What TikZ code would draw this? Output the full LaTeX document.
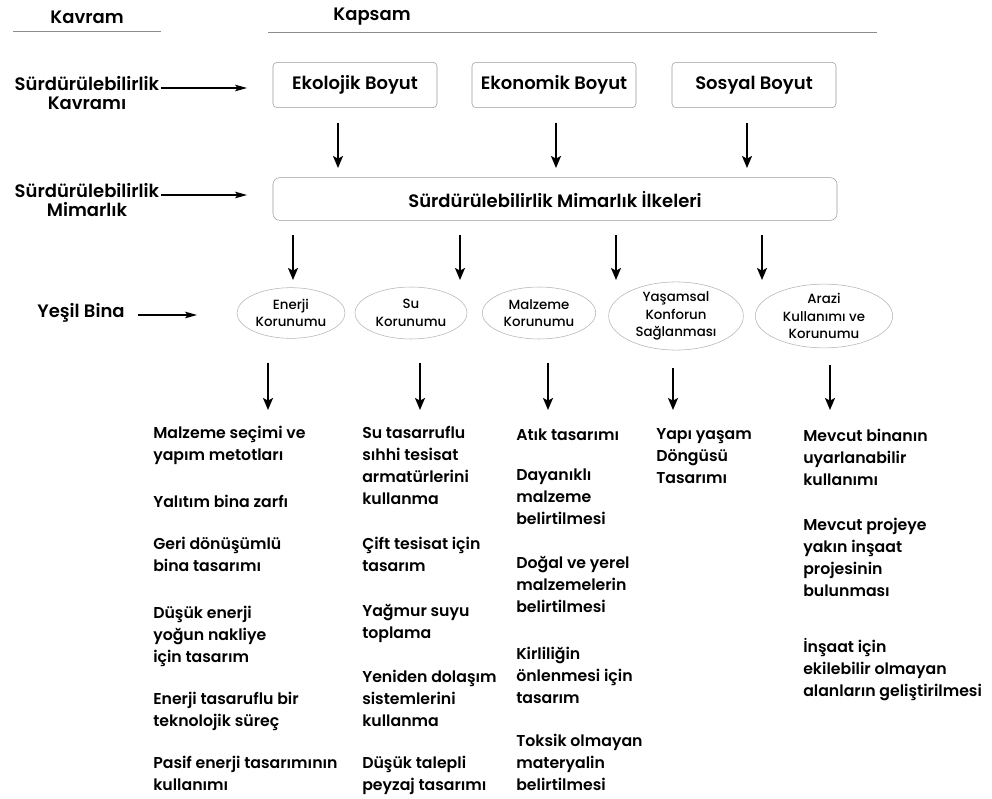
\documentclass[tikz,border=0pt]{standalone}
\usepackage{fontspec}
\setmainfont{Poppins}
\newfontfamily\medium{Poppins Medium}
\newfontfamily\semi{Poppins SemiBold}
\usetikzlibrary{shapes.geometric,arrows.meta}

\begin{document}
\begin{tikzpicture}%
	[	x=0.75pt,
	y=-0.75pt,
	rule/.style={draw=black!45, line width=0.6pt},
	head/.style={font=\semi\fontsize{13.5}{16}\selectfont},
	label/.style={align=center, inner sep=1pt, font=\semi\fontsize{13.5}{14.5}\selectfont},
	dimbox/.style={draw=black!40, rounded corners=3pt, minimum width=123pt, minimum height=34pt, font=\semi\fontsize{13.5}{16}\selectfont},
	principle/.style={draw=black!40, rounded corners=5pt, minimum width=423pt, minimum height=32pt, font=\semi\fontsize{13.5}{16}\selectfont},
	topic/.style={ellipse, draw=black!30, align=center, inner sep=0pt, font=\medium\fontsize{10}{13}\selectfont},
	item/.style={anchor=north west, yshift=8.6pt, align=left, inner sep=0pt, execute at begin node=\strut, font=\semi\fontsize{11.8}{16.5}\selectfont},
	flow/.style={-{Stealth[length=9pt,width=7.5pt,inset=2pt]}, line width=1.3pt},
	pointer/.style={-{Stealth[length=9pt,width=5pt,inset=2pt]}, line width=1pt}]

\useasboundingbox (0,0) rectangle (992,799);

\node[head] (kavram) at (87,17) {Kavram};
\node[head] (kapsam) at (372,17) {Kapsam};
\draw[rule] (13,31) -- (161,31);
\draw[rule] (268,32) -- (877,32);

\node[label] (kavrami) at (87,93) {Sürdürülebilirlik\\Kavramı};
\node[label] (mimarlik) at (87,200) {Sürdürülebilirlik\\Mimarlık};
\node[label] (yesil) at (81,313) {Yeşil Bina};

\node[dimbox] (ekolojik) at (355,85) {Ekolojik Boyut};
\node[dimbox] (ekonomik) at (554,85) {Ekonomik Boyut};
\node[dimbox] (sosyal) at (754,85) {Sosyal Boyut};
\node[principle] (ilkeler) at (555,199) {Sürdürülebilirlik Mimarlık İlkeleri};

\node[topic, minimum width=81pt, minimum height=38pt] (enerji) at (291,313) {Enerji\\Korunumu};
\node[topic, minimum width=84pt, minimum height=39pt] (su) at (411,313) {Su\\Korunumu};
\node[topic, minimum width=85pt, minimum height=39pt] (malzeme) at (539,313) {Malzeme\\Korunumu};
\node[topic, minimum width=101pt, minimum height=46pt] (yasam) at (676,316) {Yaşamsal\\Konforun\\Sağlanması};
\node[topic, minimum width=103pt, minimum height=46pt] (arazi) at (824,316) {Arazi\\Kullanımı ve\\Korunumu};

\coordinate (kavramiTip) at (247,88);
\coordinate (mimarlikTip) at (247,195);
\coordinate (yesilTip) at (197,315);
\draw[pointer] (kavrami.east |- kavramiTip) -- (kavramiTip);
\draw[pointer] (mimarlik.east |- mimarlikTip) -- (mimarlikTip);
\draw[pointer, shorten <=9pt] (yesil.east |- yesilTip) -- (yesilTip);

\coordinate (b1) at (338,168);
\coordinate (b2) at (556,168);
\coordinate (b3) at (747,168);
\draw[flow, shorten <=11pt] (ekolojik.south -| b1) -- (b1);
\draw[flow, shorten <=11pt] (ekonomik.south -| b2) -- (b2);
\draw[flow, shorten <=11pt] (sosyal.south -| b3) -- (b3);

\coordinate (i1) at (293,280);
\coordinate (i2) at (460,280);
\coordinate (i3) at (616,280);
\coordinate (i4) at (762,280);
\draw[flow, shorten <=11pt] (ilkeler.south -| i1) -- (i1);
\draw[flow, shorten <=11pt] (ilkeler.south -| i2) -- (i2);
\draw[flow, shorten <=11pt] (ilkeler.south -| i3) -- (i3);
\draw[flow, shorten <=11pt] (ilkeler.south -| i4) -- (i4);

\coordinate (d1) at (268,410);
\coordinate (d2) at (420,410);
\coordinate (d3) at (548,410);
\coordinate (d4) at (673,410);
\coordinate (d5) at (830,410);
\draw[flow, shorten <=18pt] (enerji.south -| d1) -- (d1);
\draw[flow, shorten <=18pt] (su.south -| d2) -- (d2);
\draw[flow, shorten <=18pt] (malzeme.south -| d3) -- (d3);
\draw[flow, shorten <=13pt] (yasam.south -| d4) -- (d4);
\draw[flow, shorten <=13pt] (arazi.south -| d5) -- (d5);

\node[item] (e1) at (153,437) {Malzeme seçimi ve\\yapım metotları};
\node[item] (e2) at (153,503) {Yalıtım bina zarfı};
\node[item] (e3) at (153,548) {Geri dönüşümlü\\bina tasarımı};
\node[item] (e4) at (153,617) {Düşük enerji\\yoğun nakliye\\için tasarım};
\node[item] (e5) at (153,703) {Enerji tasaruflu bir\\teknolojik süreç};
\node[item] (e6) at (153,767) {Pasif enerji tasarımının\\kullanımı};

\node[item] (s1) at (362,437) {Su tasarruflu\\sıhhi tesisat\\armatürlerini\\kullanma};
\node[item] (s2) at (362,548) {Çift tesisat için\\tasarım};
\node[item] (s3) at (362,616) {Yağmur suyu\\toplama};
\node[item] (s4) at (362,681) {Yeniden dolaşım\\sistemlerini\\kullanma};
\node[item] (s5) at (362,767) {Düşük talepli\\peyzaj tasarımı};

\node[item] (m1) at (516,436) {Atık tasarımı};
\node[item] (m2) at (516,480) {Dayanıklı\\malzeme\\belirtilmesi};
\node[item] (m3) at (516,568) {Doğal ve yerel\\malzemelerin\\belirtilmesi};
\node[item] (m4) at (516,658) {Kirliliğin\\önlenmesi için\\tasarım};
\node[item] (m5) at (516,745) {Toksik olmayan\\materyalin\\belirtilmesi};

\node[item] (y1) at (656,440) {Yapı yaşam\\Döngüsü\\Tasarımı};

\node[item] (a1) at (803,440) {Mevcut binanın\\uyarlanabilir\\kullanımı};
\node[item] (a2) at (803,529) {Mevcut projeye\\yakın inşaat\\projesinin\\bulunması};
\node[item] (a3) at (803,650) {İnşaat için\\ekilebilir olmayan\\alanların geliştirilmesi};
\end{tikzpicture}
\end{document}
